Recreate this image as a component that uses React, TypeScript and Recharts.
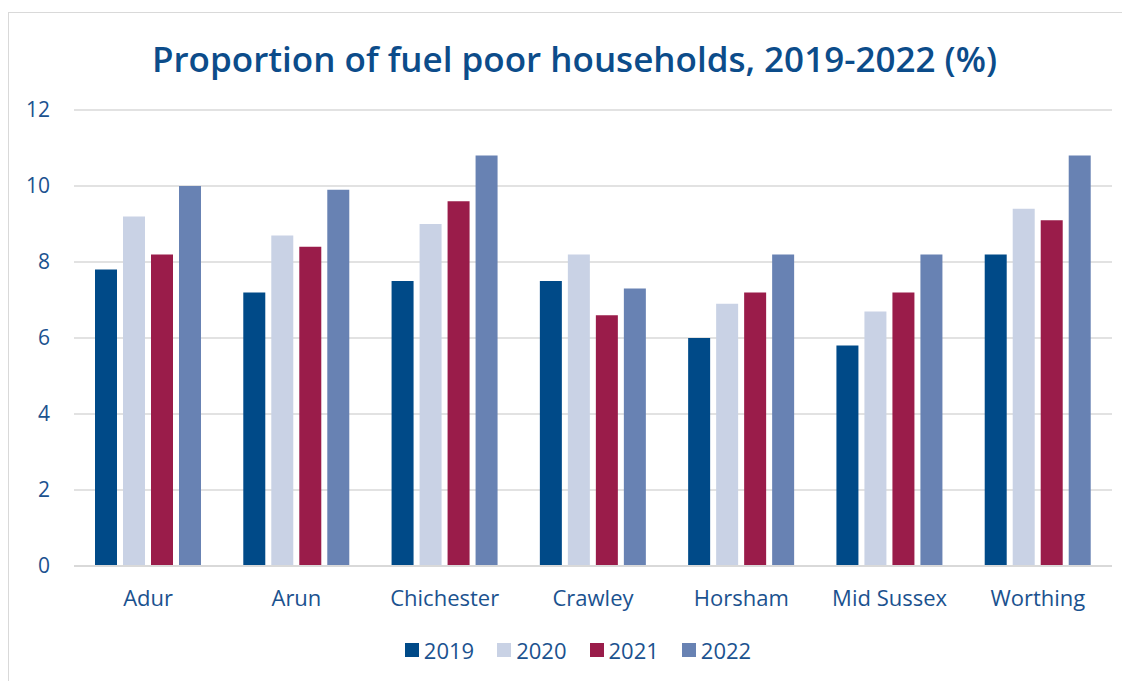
import React from "react";
import { BarChart, Bar, XAxis, YAxis, CartesianGrid } from "recharts";

const categories = ["Adur", "Arun", "Chichester", "Crawley", "Horsham", "Mid Sussex", "Worthing"];
const v2019 = [7.8, 7.2, 7.5, 7.5, 6.0, 5.8, 8.2];
const v2020 = [9.2, 8.7, 9.0, 8.2, 6.9, 6.7, 9.4];
const v2021 = [8.2, 8.4, 9.6, 6.6, 7.2, 7.2, 9.1];
const v2022 = [10.0, 9.9, 10.8, 7.3, 8.2, 8.2, 10.8];
const yTicks = [0, 2, 4, 6, 8, 10, 12];
const seriesNames = ["2019", "2020", "2021", "2022"];
const seriesColors = ["#004a88", "#c9d2e5", "#9a1c4a", "#6882b3"];
const title = "Proportion of fuel poor households, 2019-2022 (%)";

const data = categories.map((c, i) => ({
  name: c,
  "2019": v2019[i],
  "2020": v2020[i],
  "2021": v2021[i],
  "2022": v2022[i],
}));

const FONT = "'Open Sans', sans-serif";
const TEXT = "#1b528f";

export default function App() {
  return (
    <div style={{ position: "relative", width: 1122, height: 673, fontFamily: FONT }}>
      <div
        style={{
          position: "absolute",
          left: 0,
          top: 4,
          width: 1140,
          height: 700,
          border: "1px solid #d9d9d9",
          boxSizing: "border-box",
        }}
      />
      <div
        style={{
          position: "absolute",
          left: 0,
          top: 29,
          width: 1133,
          textAlign: "center",
          fontSize: 35,
          fontWeight: 600,
          color: "#0c4c8a",
          lineHeight: "44px",
          whiteSpace: "nowrap",
        }}
      >
        {title}
      </div>
      <div style={{ position: "absolute", left: 0, top: 0 }}>
        <BarChart
          width={1114}
          height={673}
          data={data}
          margin={{ top: 102, right: 10, left: 0, bottom: 75 }}
          barGap={6}
          barCategoryGap={21}
        >
          <CartesianGrid vertical={false} stroke="#d9d9d9" strokeWidth={1.5} />
          <XAxis
            dataKey="name"
            height={40}
            tickLine={false}
            axisLine={{ stroke: "#d9d9d9", strokeWidth: 2 }}
            tickMargin={18}
            tick={{ fill: TEXT, fontSize: 22, fontFamily: FONT }}
            interval={0}
          />
          <YAxis
            width={66}
            domain={[0, 12]}
            ticks={yTicks}
            tickLine={false}
            axisLine={false}
            tickMargin={18}
            tick={{ fill: TEXT, fontSize: 21, fontFamily: FONT }}
          />
          {seriesNames.map((s, i) => (
            <Bar key={s} dataKey={s} fill={seriesColors[i]} isAnimationActive={false} />
          ))}
        </BarChart>
      </div>
      <div
        style={{
          position: "absolute",
          left: 0,
          top: 628,
          width: 1140,
          display: "flex",
          justifyContent: "center",
          alignItems: "center",
          gap: 23,
          fontSize: 22,
          color: TEXT,
          lineHeight: "28px",
        }}
      >
        {seriesNames.map((s, i) => (
          <div key={s} style={{ display: "flex", alignItems: "center" }}>
            <div style={{ width: 14, height: 14, background: seriesColors[i], marginRight: 5 }} />
            <span>{s}</span>
          </div>
        ))}
      </div>
    </div>
  );
}
